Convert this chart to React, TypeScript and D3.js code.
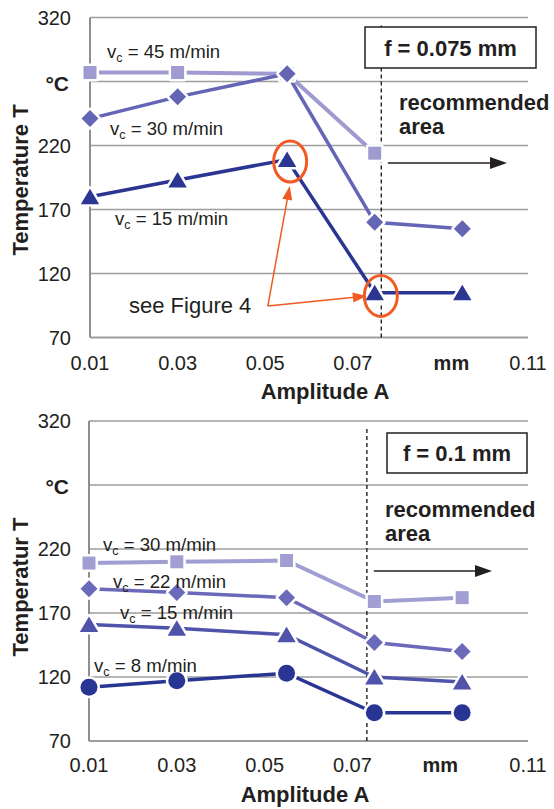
import React from "react";
import * as d3 from "d3";

// ---------- data ----------
const amplitudes = [0.01, 0.03, 0.055, 0.075, 0.095];
const xTicks = [0.01, 0.03, 0.05, 0.07, 0.09, 0.11];
const xTickLabels = ["0.01", "0.03", "0.05", "0.07", "mm", "0.11"];
const yTicks = [70, 120, 170, 220, 270, 320];
const yTickLabels = ["70", "120", "170", "220", "°C", "320"];

// f = 0.075 mm
const topVc45 = [277, 277, 276, 214];
const topVc30 = [241, 258, 276, 160, 155];
const topVc15 = [180, 193, 209, 105, 105];

// f = 0.1 mm
const botVc30 = [209, 210, 211, 179, 182];
const botVc22 = [189, 186, 182, 147, 140];
const botVc15 = [161, 158, 153, 120, 116];
const botVc8 = [112, 117, 123, 92, 92];

const FONT = "'Liberation Sans', Arial, Helvetica, sans-serif";
const INK = "#231f20";
const RED = "#f15a24";

type Shape = "square" | "diamond" | "triangle" | "circle";
interface Series {
  values: number[];
  color: string;
  shape: Shape;
  label: string;
  lx: number;
  ly: number;
}
interface Panel {
  xRange: [number, number];
  yRange: [number, number];
  dashed: number;
  title: string;
  titleX: number;
  titleY: number;
  xTitleX: number;
  xTitleY: number;
  xLabelY: number;
  mmDx: number;
  box: { x: number; y: number; w: number; h: number; text: string };
  recX: number;
  recY: number;
  arrow: { a0: number; a1: number; t: number };
  series: Series[];
}

const panels: Panel[] = [
  {
    xRange: [90, 528],
    yRange: [337.5, 17.5],
    dashed: 0.0765,
    title: "Temperature T",
    titleX: 28,
    titleY: 180,
    xTitleX: 325,
    xTitleY: 399,
    xLabelY: 370,
    mmDx: 11,
    box: { x: 365, y: 27, w: 171, h: 41, text: "f = 0.075 mm" },
    recX: 399,
    recY: 110,
    arrow: { a0: 0.078, a1: 0.1052, t: 206.3 },
    series: [
      { values: topVc45, color: "#9f9bd0", shape: "square", label: "45", lx: 107, ly: 58 },
      { values: topVc30, color: "#6565b5", shape: "diamond", label: "30", lx: 110, ly: 135 },
      { values: topVc15, color: "#2b3592", shape: "triangle", label: "15", lx: 115, ly: 225 },
    ],
  },
  {
    xRange: [89, 528],
    yRange: [741, 421],
    dashed: 0.0733,
    title: "Temperatur T",
    titleX: 28,
    titleY: 587,
    xTitleX: 305,
    xTitleY: 802,
    xLabelY: 772,
    mmDx: 0,
    box: { x: 387, y: 433, w: 140, h: 40, text: "f = 0.1 mm" },
    recX: 385,
    recY: 517,
    arrow: { a0: 0.0749, a1: 0.1018, t: 202.8 },
    series: [
      { values: botVc30, color: "#a19ed3", shape: "square", label: "30", lx: 103, ly: 551 },
      { values: botVc22, color: "#6a69ba", shape: "diamond", label: "22", lx: 113, ly: 588 },
      { values: botVc15, color: "#5053aa", shape: "triangle", label: "15", lx: 120, ly: 619 },
      { values: botVc8, color: "#283593", shape: "circle", label: "8", lx: 94, ly: 672 },
    ],
  },
];

function Marker({ shape, x, y, color }: { shape: Shape; x: number; y: number; color: string }) {
  const common = {
    fill: color,
    stroke: "#ffffff",
    strokeWidth: 5,
    paintOrder: "stroke" as any,
    strokeLinejoin: "round" as any,
  };
  if (shape === "circle") return <circle cx={x} cy={y} r={8.5} {...common} />;
  let d = "";
  if (shape === "square") d = "M-6.5,-6.5h13v13h-13z";
  if (shape === "diamond") d = "M0,-8.5L8.5,0L0,8.5L-8.5,0Z";
  if (shape === "triangle") d = "M0,-8L9.2,7.5L-9.2,7.5Z";
  return <path d={d} transform={`translate(${x},${y})`} {...common} />;
}

function ArrowHead({ x0, y0, x1, y1, len, half, color }: any) {
  const ang = Math.atan2(y1 - y0, x1 - x0);
  const bx = x1 - len * Math.cos(ang);
  const by = y1 - len * Math.sin(ang);
  const px = -Math.sin(ang) * half;
  const py = Math.cos(ang) * half;
  return <path d={`M${x1},${y1}L${bx + px},${by + py}L${bx - px},${by - py}Z`} fill={color} />;
}

function PanelView({ p, idx }: { p: Panel; idx: number }) {
  const x = d3.scaleLinear().domain([0.01, 0.11]).range(p.xRange);
  const y = d3.scaleLinear().domain([70, 320]).range(p.yRange);
  const line = d3
    .line<number>()
    .x((_, i) => x(amplitudes[i]))
    .y((d) => y(d));
  const [x0, x1] = p.xRange;
  const arrowY = y(p.arrow.t);
  const ax0 = x(p.arrow.a0);
  const ax1 = x(p.arrow.a1);

  return (
    <g>
      {/* grid */}
      {yTicks.map((t) => (
        <line key={t} x1={x0} x2={x1} y1={y(t)} y2={y(t)} stroke="#9d9d9d" strokeWidth={t === 70 ? 1.8 : 1.3} />
      ))}
      <line x1={x0} x2={x0} y1={y(320)} y2={y(70)} stroke="#8f8f8f" strokeWidth={2} />
      {/* dashed recommended border */}
      <line
        x1={x(p.dashed)}
        x2={x(p.dashed)}
        y1={y(320) + 8}
        y2={y(70)}
        stroke="#111"
        strokeWidth={1.3}
        strokeDasharray="4,3"
      />
      {/* y tick labels */}
      {yTicks.map((t, i) => (
        <text
          key={t}
          x={yTickLabels[i] === "°C" ? 69 : 71}
          y={y(t) + (yTickLabels[i] === "°C" ? 9 : 7)}
          textAnchor="end"
          fontSize={yTickLabels[i] === "°C" ? 21 : 20}
          fontWeight={yTickLabels[i] === "°C" ? "bold" : "normal"}
          fill={INK}
        >
          {yTickLabels[i]}
        </text>
      ))}
      {/* x tick labels */}
      {xTicks.map((t, i) => (
        <text
          key={t}
          x={x(t) + (xTickLabels[i] === "mm" ? p.mmDx : 0)}
          y={p.xLabelY}
          textAnchor="middle"
          fontSize={20}
          fontWeight={xTickLabels[i] === "mm" ? "bold" : "normal"}
          fill={INK}
        >
          {xTickLabels[i]}
        </text>
      ))}
      {/* axis titles */}
      <text
        transform={`translate(${p.titleX},${p.titleY}) rotate(-90)`}
        textAnchor="middle"
        fontSize={22}
        fontWeight="bold"
        fill={INK}
      >
        {p.title}
      </text>
      <text x={p.xTitleX} y={p.xTitleY} textAnchor="middle" fontSize={22} fontWeight="bold" fill={INK}>
        Amplitude A
      </text>
      {/* series lines */}
      {p.series.map((s, i) => (
        <path
          key={i}
          d={line(s.values) || ""}
          fill="none"
          stroke={s.color}
          strokeWidth={s.shape === "square" ? 4 : 3.5}
        />
      ))}
      {/* markers */}
      {p.series.map((s, i) =>
        s.values.map((v, j) => (
          <Marker key={`${i}-${j}`} shape={s.shape} x={x(amplitudes[j])} y={y(v)} color={s.color} />
        ))
      )}
      {/* series labels */}
      {p.series.map((s, i) => (
        <text key={i} x={s.lx} y={s.ly} fontSize={18.6} fill={INK}>
          v
          <tspan fontSize={12.5} dy={4}>
            c
          </tspan>
          <tspan dy={-4}>{` = ${s.label} m/min`}</tspan>
        </text>
      ))}
      {/* f box */}
      <rect x={p.box.x} y={p.box.y} width={p.box.w} height={p.box.h} fill="#fff" stroke={INK} strokeWidth={1.5} />
      <text
        x={p.box.x + p.box.w / 2}
        y={p.box.y + p.box.h / 2 + 8}
        textAnchor="middle"
        fontSize={22}
        fontWeight="bold"
        fill={INK}
      >
        {p.box.text}
      </text>
      {/* recommended area */}
      <text x={p.recX} y={p.recY} fontSize={22} fontWeight="bold" fill={INK}>
        recommended
      </text>
      <text x={p.recX} y={p.recY + 24} fontSize={22} fontWeight="bold" fill={INK}>
        area
      </text>
      <line x1={ax0} x2={ax1 - 14} y1={arrowY} y2={arrowY} stroke={INK} strokeWidth={1.5} />
      <ArrowHead x0={ax0} y0={arrowY} x1={ax1} y1={arrowY} len={17} half={6} color={INK} />
      {idx === 0 && <Annotation x={x} y={y} />}
    </g>
  );
}

// annotation anchors in data units
const annOrigin = { a: 0.0506, t: 94.6 };
const annTips = [
  { a: 0.0556, t: 188.4 },
  { a: 0.0732, t: 102.4 },
];
const annCircles = [
  { a: 0.0557, t: 207.5 },
  { a: 0.0764, t: 102.5 },
];

function Annotation({ x, y }: { x: any; y: any }) {
  const ox = x(annOrigin.a);
  const oy = y(annOrigin.t);
  return (
    <g>
      {annCircles.map((c, i) => (
        <ellipse key={i} cx={x(c.a)} cy={y(c.t)} rx={16.5} ry={20.5} fill="none" stroke={RED} strokeWidth={3} />
      ))}
      {annTips.map((t, i) => {
        const tx = x(t.a);
        const ty = y(t.t);
        const ang = Math.atan2(ty - oy, tx - ox);
        return (
          <g key={i}>
            <line
              x1={ox}
              y1={oy}
              x2={tx - 10 * Math.cos(ang)}
              y2={ty - 10 * Math.sin(ang)}
              stroke={RED}
              strokeWidth={1.5}
            />
            <ArrowHead x0={ox} y0={oy} x1={tx} y1={ty} len={14} half={5} color={RED} />
          </g>
        );
      })}
      <text x={129} y={313} fontSize={22} fill={INK}>
        see Figure 4
      </text>
    </g>
  );
}

export default function App() {
  return (
    <svg
      width={554}
      height={809}
      viewBox="0 0 554 809"
      style={{ position: "absolute", left: 0, top: 0, fontFamily: FONT, background: "#fff" }}
    >
      <rect width={554} height={809} fill="#fff" />
      {panels.map((p, i) => (
        <PanelView key={i} p={p} idx={i} />
      ))}
    </svg>
  );
}
